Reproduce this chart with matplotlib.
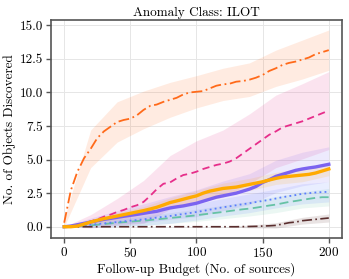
import numpy as np
import matplotlib
matplotlib.use('Agg')
import matplotlib.pyplot as plt

plt.rcParams['font.family'] = 'serif'
plt.rcParams['font.serif'] = ['cmr10', 'DejaVu Serif']
plt.rcParams['mathtext.fontset'] = 'cm'
plt.rcParams['axes.formatter.use_mathtext'] = True

# budget grid for the mean curves, coarser grid for the shaded bands
budget = np.arange(0, 201, 5)
band_budget = np.arange(0, 201, 20)

orange = [0.3, 2.7, 4.1, 5.1, 5.8, 6.6, 7.1, 7.45, 7.8, 7.95, 8.05, 8.3, 8.7, 9.0, 9.1, 9.3,
          9.45, 9.6, 9.85, 10.0, 10.05, 10.1, 10.3, 10.5, 10.6, 10.65, 10.8, 10.85, 10.95,
          11.1, 11.3, 11.6, 11.8, 12.05, 12.2, 12.3, 12.45, 12.6, 12.85, 13.0, 13.15]
orange_sd = [0.3, 1.4, 1.5, 1.4, 1.3, 1.2, 1.2, 1.25, 1.35, 1.45, 1.5]

pink = [0, 0.05, 0.15, 0.25, 0.4, 0.55, 0.75, 0.9, 1.1, 1.25, 1.45, 1.6, 1.85, 2.3, 2.8, 3.2,
        3.3, 3.6, 3.85, 3.95, 4.1, 4.3, 4.45, 4.6, 4.7, 4.85, 5.1, 5.45, 5.8, 6.15, 6.5, 6.85,
        7.1, 7.4, 7.55, 7.7, 7.85, 8.05, 8.25, 8.45, 8.65]
pink_sd = [0, 0.5, 1.0, 1.6, 2.0, 2.3, 2.5, 2.6, 2.7, 2.8, 2.9]

purple = [0, 0.05, 0.15, 0.25, 0.35, 0.45, 0.55, 0.62, 0.7, 0.78, 0.85, 0.92, 1.0, 1.08, 1.15,
          1.28, 1.4, 1.48, 1.55, 1.65, 1.75, 1.9, 2.05, 2.2, 2.3, 2.4, 2.5, 2.65, 2.8, 3.0,
          3.3, 3.5, 3.75, 3.9, 4.05, 4.2, 4.3, 4.38, 4.45, 4.55, 4.65]
purple_sd = [0, 0.3, 0.5, 0.7, 0.85, 1.0, 1.1, 1.15, 1.2, 1.25, 1.3]

yellow = [0, 0, 0.05, 0.2, 0.35, 0.48, 0.6, 0.7, 0.8, 0.9, 1.0, 1.1, 1.2, 1.32, 1.45, 1.62,
          1.8, 1.92, 2.05, 2.18, 2.3, 2.5, 2.65, 2.75, 2.85, 2.9, 2.95, 3.05, 3.15, 3.25,
          3.35, 3.48, 3.6, 3.7, 3.75, 3.8, 3.85, 3.9, 4.0, 4.15, 4.3]
yellow_sd = [0, 0.15, 0.25, 0.3, 0.35, 0.4, 0.4, 0.45, 0.45, 0.5, 0.5]

blue = [0, 0.02, 0.05, 0.1, 0.15, 0.2, 0.25, 0.3, 0.35, 0.4, 0.45, 0.5, 0.55, 0.62, 0.68,
        0.74, 0.8, 0.88, 0.95, 1.02, 1.1, 1.18, 1.27, 1.36, 1.45, 1.52, 1.6, 1.68, 1.75,
        1.84, 1.92, 2.0, 2.1, 2.2, 2.28, 2.36, 2.45, 2.5, 2.55, 2.58, 2.6]
blue_sd = [0, 0.2, 0.35, 0.45, 0.55, 0.6, 0.65, 0.7, 0.7, 0.75, 0.75]

green = [0, 0.02, 0.04, 0.07, 0.1, 0.15, 0.2, 0.25, 0.3, 0.34, 0.38, 0.42, 0.45, 0.5, 0.55,
         0.6, 0.65, 0.7, 0.75, 0.8, 0.85, 0.92, 0.98, 1.04, 1.1, 1.17, 1.24, 1.3, 1.35,
         1.42, 1.5, 1.58, 1.65, 1.75, 1.85, 1.92, 2.0, 2.08, 2.15, 2.2, 2.2]
green_sd = [0, 0.15, 0.25, 0.35, 0.4, 0.45, 0.5, 0.55, 0.6, 0.6, 0.65]

brown = [0] * 27 + [0.01, 0.02, 0.03, 0.05, 0.07, 0.1, 0.2, 0.3, 0.35, 0.45, 0.5, 0.55,
                    0.6, 0.65]
brown_sd = [0, 0, 0, 0, 0, 0, 0, 0.1, 0.2, 0.25, 0.3]

# (mean, band, colour, linestyle, linewidth)
curves = [
    (orange, orange_sd, '#FF6A1A', (0, (6, 2, 1, 2)), 1.3),
    (pink, pink_sd, '#E62E8A', (0, (4, 2.5)), 1.3),
    (green, green_sd, '#66C2A5', (0, (5, 2.5)), 1.3),
    (blue, blue_sd, '#5A7DFF', (0, (1, 1.8)), 1.3),
    (brown, brown_sd, '#5A2E2E', (0, (6, 2, 1, 2)), 1.2),
    (purple, purple_sd, '#7B63F0', '-', 2.4),
    (yellow, yellow_sd, '#FFAA00', '-', 2.4),
]

fig = plt.figure(figsize=(3.49, 2.79), dpi=100)
ax = fig.add_axes([0.146, 0.147, 0.834, 0.781])

for mean, sd, col, ls, lw in curves:
    m_band = np.interp(band_budget, budget, mean)
    sd = np.array(sd)
    ax.fill_between(band_budget, m_band - sd, m_band + sd, color=col, alpha=0.13, lw=0)
    ax.plot(budget, mean, color=col, ls=ls, lw=lw)

ax.set_xticks([0, 50, 100, 150, 200])
ax.set_yticks([0, 2.5, 5, 7.5, 10, 12.5, 15])
ax.yaxis.set_major_formatter(matplotlib.ticker.FormatStrFormatter('%.1f'))
ax.grid(True, color='#e6e6e6', lw=0.7)
ax.set_axisbelow(True)
for s in ax.spines.values():
    s.set_color('#555555')
    s.set_linewidth(1.2)
ax.tick_params(direction='out', length=3.5, width=1, color='#555555', labelsize=9.5, pad=2)

ax.set_title('Anomaly Class: ILOT', fontsize=9.5, pad=3)
ax.set_xlabel('Follow-up Budget (No. of sources)', fontsize=9.5, labelpad=2)
ax.set_ylabel('No. of Objects Discovered', fontsize=9.5, labelpad=3)

fig.savefig('out.png', dpi=100)
